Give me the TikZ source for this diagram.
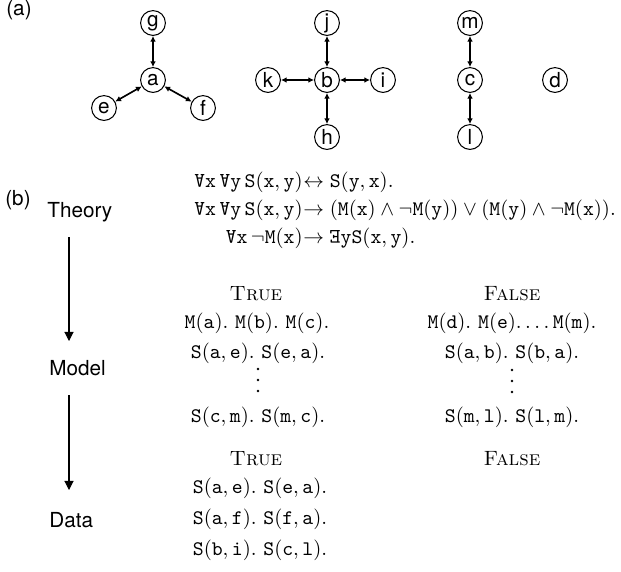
\documentclass[tikz,border=0pt]{standalone}
\usepackage{fontspec}
\usepackage{graphicx}
\newfontfamily\helv{TeX Gyre Heros}
\usetikzlibrary{arrows.meta}
\newcommand{\FA}{\mathord{\rotatebox[origin=c]{180}{$\mathtt{A}$}}}
\newcommand{\EX}{\mathord{\rotatebox[origin=c]{180}{$\mathtt{E}$}}}
\newcommand{\tS}[2]{\mathtt{S}(\mathtt{#1},\mathtt{#2})}
\newcommand{\tM}[1]{\mathtt{M}(\mathtt{#1})}
\tikzset{
  gnode/.style={circle,draw,line width=0.5pt,minimum size=12pt,inner sep=0pt,font=\helv},
  garrow/.style={{Latex[length=2.8pt,width=2.8pt]}-{Latex[length=2.8pt,width=2.8pt]},line width=0.8pt},
  flow/.style={-{Triangle[width=4.4pt,length=4.4pt]},line width=0.5pt},
  lab/.style={font=\helv,inner sep=0pt},
  txt/.style={inner sep=0pt,anchor=base},
  dotp/.style={fill=black},
}
\begin{document}
\begin{tikzpicture}[x=0.4831pt,y=-0.4831pt]
\useasboundingbox (0,0) rectangle (621,571);
% (a)
\node[lab] (la) at (19,10) {(a)};
\node[gnode] (a) at (153,80) {a};
\node[gnode] (g) at (153,23) {g};
\node[gnode] (e) at (104,108) {e};
\node[gnode] (f) at (203,108) {f};
\node[gnode] (b) at (327,80) {b};
\node[gnode] (j) at (327,23) {j};
\node[gnode] (h) at (327,137) {h};
\node[gnode] (k) at (268,80) {k};
\node[gnode] (i) at (383,80) {i};
\node[gnode] (c) at (470,80) {c};
\node[gnode] (m) at (470,23) {m};
\node[gnode] (l) at (470,137) {l};
\node[gnode] (d) at (555,80) {d};
\draw[garrow] (a) -- (g);
\draw[garrow] (a) -- (e);
\draw[garrow] (a) -- (f);
\draw[garrow] (b) -- (j);
\draw[garrow] (b) -- (h);
\draw[garrow] (b) -- (k);
\draw[garrow] (b) -- (i);
\draw[garrow] (c) -- (m);
\draw[garrow] (c) -- (l);
% (b)
\node[lab] (lb) at (18,200) {(b)};
\node[lab,anchor=base west] (theory) at (47,217) {Theory};
\node[lab,anchor=base west] (model) at (49,375) {Model};
\node[lab,anchor=base west] (data) at (49,527) {Data};
\coordinate (t1) at (69,237);
\coordinate (t2) at (69,341);
\coordinate (m1) at (69,395);
\coordinate (m2) at (69,490);
\draw[flow] (t1) -- (t2);
\draw[flow] (m1) -- (m2);
% theory formulas
\node[txt,anchor=base east] (L1) at (303,187) {$\FA\mathtt{x}\,\FA\mathtt{y}\,\tS{x}{y}$};
\node[txt,anchor=base west] (R1) at (303,187) {${\leftrightarrow}\;\tS{y}{x}.$};
\node[txt,anchor=base east] (L2) at (303,215) {$\FA\mathtt{x}\,\FA\mathtt{y}\,\tS{x}{y}$};
\node[txt,anchor=base west] (R2) at (303,215) {${\rightarrow}\;(\tM{x}\wedge\neg\tM{y})\vee(\tM{y}\wedge\neg\tM{x}).$};
\node[txt,anchor=base east] (L3) at (303,243) {$\FA\mathtt{x}\,\neg\tM{x}$};
\node[txt,anchor=base west] (R3) at (303,243) {${\rightarrow}\;\EX\mathtt{y}\tS{x}{y}.$};
% model
\node[txt] (mt) at (256,300) {\textsc{True}};
\node[txt] (mt1) at (257,328) {$\tM{a}.\ \tM{b}.\ \tM{c}.$};
\node[txt] (mt2) at (258,358) {$\tS{a}{e}.\ \tS{e}{a}.$};
\foreach \yy in {369,380,391} \fill[dotp] (258,\yy) circle[radius=0.7pt];
\node[txt] (mt4) at (258,422) {$\tS{c}{m}.\ \tS{m}{c}.$};
\node[txt] (mf) at (512,300) {\textsc{False}};
\node[txt] (mf1) at (512,328) {$\tM{d}.\ \tM{e}.\ldots\tM{m}.$};
\node[txt] (mf2) at (512,358) {$\tS{a}{b}.\ \tS{b}{a}.$};
\foreach \yy in {370,381,392} \fill[dotp] (512,\yy) circle[radius=0.7pt];
\node[txt] (mf4) at (512,422) {$\tS{m}{l}.\ \tS{l}{m}.$};
% data
\node[txt] (dt) at (256,465) {\textsc{True}};
\node[txt] (dt1) at (260,493) {$\tS{a}{e}.\ \tS{e}{a}.$};
\node[txt] (dt2) at (260,524) {$\tS{a}{f}.\ \tS{f}{a}.$};
\node[txt] (dt3) at (260,555) {$\tS{b}{i}.\ \tS{c}{l}.$};
\node[txt] (df) at (512,465) {\textsc{False}};
\end{tikzpicture}
\end{document}
